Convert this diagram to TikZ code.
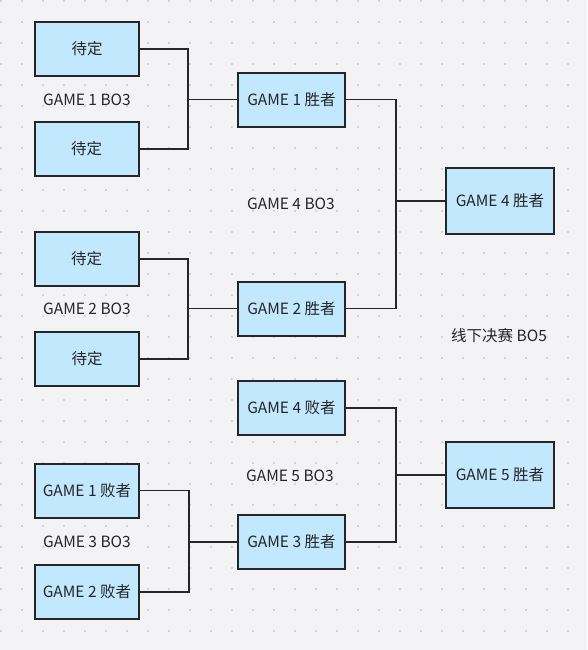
\documentclass[tikz,border=0pt]{standalone}
\usepackage{fontspec}
\setmainfont{Noto Sans CJK SC}
\definecolor{bg}{HTML}{F3F3F5}
\definecolor{dot}{HTML}{D4D4D8}
\definecolor{boxfill}{HTML}{C2E8FD}
\definecolor{ink}{HTML}{262626}

\begin{document}
\begin{tikzpicture}[x=1pt,y=-1pt,
  box/.style={draw=ink,line width=2pt,fill=boxfill,minimum width=104pt,minimum height=54pt,inner sep=0pt,text=ink,font=\fontsize{15.5}{18}\selectfont},
  wbox/.style={box,minimum width=107pt},
  fbox/.style={box,minimum width=108pt,minimum height=66pt},
  tag/.style={text=ink,font=\fontsize{15.5}{18}\selectfont},
  line/.style={draw=ink,line width=1.5pt}]
\fill[bg] (0,0) rectangle (587,650);
\useasboundingbox (0,0) rectangle (587,650);
\foreach \i in {0,...,27}
  \foreach \j in {0,...,30}
    \fill[dot] (21*\i-0.5,21*\j-0.3) rectangle ++(2,2);

\node[box] (dd1) at (87,49) {待定};
\node[box] (dd2) at (86.5,149) {待定};
\node[box] (dd3) at (86.5,259) {待定};
\node[box] (dd4) at (87,359) {待定};
\node[box] (gl1) at (87,490.5) {GAME 1 败者};
\node[box] (gl2) at (87,592) {GAME 2 败者};

\node[wbox] (gw1) at (291.5,99.7) {GAME 1 胜者};
\node[wbox] (gw2) at (291.5,308.5) {GAME 2 胜者};
\node[wbox] (gl4) at (291.5,408) {GAME 4 败者};
\node[wbox] (gw3) at (291.5,542) {GAME 3 胜者};

\node[fbox] (gw4) at (500,201) {GAME 4 胜者};
\node[fbox] (gw5) at (500,475) {GAME 5 胜者};

\node[tag] (bo1) at (87,100) {GAME 1 BO3};
\node[tag] (bo2) at (87,309) {GAME 2 BO3};
\node[tag] (bo3) at (87,542) {GAME 3 BO3};
\node[tag] (bo4) at (291,204) {GAME 4 BO3};
\node[tag] (bo5) at (290,476) {GAME 5 BO3};
\node[tag] (fin) at (499,336) {线下决赛 BO5};

\coordinate (j1) at (188,99.7);
\coordinate (j2) at (188,308.5);
\coordinate (j3) at (189,542);
\coordinate (j4) at (396,201);
\coordinate (j5) at (396,475);

\draw[line] (dd1.east) -| (j1) |- (dd2.east);
\draw[line] (j1) -- (gw1.west);
\draw[line] (dd3.east) -| (j2) |- (dd4.east);
\draw[line] (j2) -- (gw2.west);
\draw[line] (gl1.east) -| (j3) |- (gl2.east);
\draw[line] (j3) -- (gw3.west);
\draw[line] (gw1.east) -| (j4) |- (gw2.east);
\draw[line,line width=2pt] (j4) -- (gw4.west);
\draw[line] (gl4.east) -| (j5) |- (gw3.east);
\draw[line,line width=2pt] (j5) -- (gw5.west);
\end{tikzpicture}
\end{document}
